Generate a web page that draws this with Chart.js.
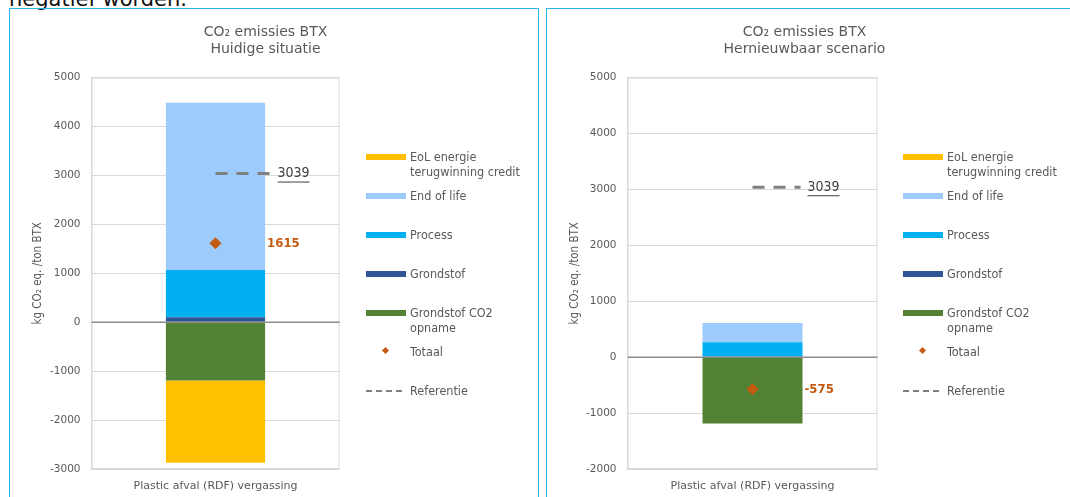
<!DOCTYPE html>
<html>
<head>
<meta charset="utf-8">
<script src="https://cdn.jsdelivr.net/npm/chart.js@4.4.1/dist/chart.umd.min.js"></script>
<style>
  html, body { margin: 0; padding: 0; background: #fff; }
  body { width: 1070px; height: 497px; position: relative; overflow: hidden;
         font-family: "DejaVu Sans Condensed", "DejaVu Sans", sans-serif; }
  .toptext { position: absolute; left: 9px; top: -12px; font-size: 21px; line-height: 22px;
             color: #111; font-family: "DejaVu Sans", sans-serif; white-space: nowrap; }
  .box { position: absolute; top: 8px; height: 520px; border: 1.5px solid #2bb5e6; box-sizing: border-box; }
  .box canvas { position: absolute; left: 0; top: 0; }
  .legend { position: absolute; font-size: 12.5px; color: #595959; }
  .legend .item { position: absolute; left: 0; white-space: nowrap; }
  .legend .sw { position: absolute; left: 0; top: 5px; width: 40px; height: 6px; }
  .legend .txt { position: absolute; left: 44px; top: 0; line-height: 15px; }
  .legend .dia { position: absolute; left: 17px; top: 4px; width: 5px; height: 5px; transform: rotate(45deg); }
  .legend .dash { position: absolute; left: 0; top: 7px; width: 37px; height: 1.5px;
                  background: repeating-linear-gradient(90deg, #808080 0 6px, transparent 6px 10px); }
</style>
</head>
<body>
<div class="toptext">negatief worden.</div>
<div class="box" id="boxL" style="left:9px; width:530px;"><canvas id="chartL"></canvas></div>
<div class="box" id="boxR" style="left:546px; width:530px;"><canvas id="chartR"></canvas></div>
<div class="legend" id="legendL" style="left:366px; top:0;"></div>
<div class="legend" id="legendR" style="left:903px; top:0;"></div>
<script>
// categories and series
const categories = ['Plastic afval (RDF) vergassing'];
const seriesNames = ['Grondstof', 'Process', 'End of life', 'Grondstof CO2 opname', 'EoL energie terugwinning credit'];
const seriesColors = ['#2f5597', '#00b0f0', '#9dcbfc', '#548235', '#ffc000'];

// Huidige situatie
const grondstofHuidig = [100];
const processHuidig = [965];
const endOfLifeHuidig = [3420];
const co2OpnameHuidig = [-1190];
const eolCreditHuidig = [-1680];
const totaalHuidig = [1615];
const referentieHuidig = [3039];
const yTicksHuidig = [-3000, -2000, -1000, 0, 1000, 2000, 3000, 4000, 5000];

// Hernieuwbaar scenario
const grondstofHernieuwbaar = [10];
const processHernieuwbaar = [255];
const endOfLifeHernieuwbaar = [345];
const co2OpnameHernieuwbaar = [-1185];
const eolCreditHernieuwbaar = [0];
const totaalHernieuwbaar = [-575];
const referentieHernieuwbaar = [3039];
const yTicksHernieuwbaar = [-2000, -1000, 0, 1000, 2000, 3000, 4000, 5000];

const FONT = '"DejaVu Sans Condensed", "DejaVu Sans", sans-serif';
const WIDE = '"DejaVu Sans", sans-serif';
const TXT = '#595959';
const TOTAL_COLOR = '#c55a11';

// draws outline, zero line, reference dashes and value labels
const overlays = {
    id: 'overlays',
    afterDatasetsDraw(chart, args, opts) {
        const { ctx, chartArea: a } = chart;
        const y = chart.scales.y;
        ctx.save();
        ctx.strokeStyle = '#d9d9d9';
        ctx.lineWidth = 1;
        ctx.strokeRect(a.left + 0.5, a.top + 0.5, a.right - a.left - 1, a.bottom - a.top - 1);

        const y0 = y.getPixelForValue(0);
        ctx.strokeStyle = '#8c8c8c';
        ctx.lineWidth = 1.5;
        ctx.beginPath();
        ctx.moveTo(a.left, y0);
        ctx.lineTo(a.right, y0);
        ctx.stroke();

        const bar = chart.getDatasetMeta(0).data[0];
        const cx = bar.x;
        const barRight = bar.x + bar.width / 2;

        // total label
        const pt = chart.getDatasetMeta(5).data[0];
        ctx.fillStyle = TOTAL_COLOR;
        ctx.font = 'bold 13px ' + FONT;
        ctx.textBaseline = 'middle';
        ctx.textAlign = 'left';
        ctx.fillText(String(opts.total[0]), barRight + 2, pt.y);

        // reference line
        const yr = y.getPixelForValue(opts.ref[0]);
        const x1 = cx + opts.refLen;
        ctx.strokeStyle = '#808080';
        ctx.lineWidth = 3;
        ctx.setLineDash([12, 9]);
        ctx.beginPath();
        ctx.moveTo(cx, yr);
        ctx.lineTo(x1, yr);
        ctx.stroke();
        ctx.setLineDash([]);
        ctx.fillStyle = '#404040';
        ctx.font = '14px ' + FONT;
        const label = String(opts.ref[0]);
        const tx = x1 + 7;
        ctx.fillText(label, tx, yr);
        const w = ctx.measureText(label).width;
        ctx.strokeStyle = '#404040';
        ctx.lineWidth = 1;
        ctx.beginPath();
        ctx.moveTo(tx, yr + 8.5);
        ctx.lineTo(tx + w, yr + 8.5);
        ctx.stroke();
        ctx.restore();
    }
};

function makeChart(id, subtitle, series, totaal, referentie, yTicks, size) {
    const canvas = document.getElementById(id);
    canvas.width = size.w;
    canvas.height = 488;
    canvas.style.width = size.w + 'px';
    canvas.style.height = '488px';

    const datasets = series.map((data, i) => ({
        label: seriesNames[i],
        data,
        backgroundColor: seriesColors[i],
        borderWidth: 0,
        barPercentage: 0.4,
        categoryPercentage: 1,
        order: 1
    }));
    datasets.push({
        type: 'line',
        label: 'Totaal',
        data: totaal,
        showLine: false,
        stack: 'totaal',
        pointStyle: 'rectRot',
        pointRadius: 6,
        pointBackgroundColor: TOTAL_COLOR,
        pointBorderColor: TOTAL_COLOR,
        pointBorderWidth: 0,
        order: -1
    });

    return new Chart(canvas, {
        type: 'bar',
        data: { labels: categories, datasets },
        plugins: [overlays],
        options: {
            responsive: false,
            animation: false,
            layout: { padding: 0 },
            scales: {
                x: {
                    stacked: true,
                    grid: { display: false },
                    border: { display: true, color: '#d9d9d9' },
                    ticks: { color: TXT, font: { family: WIDE, size: 11 }, padding: 3 },
                    afterFit(scale) { scale.height = 28; }
                },
                y: {
                    stacked: true,
                    min: yTicks[0],
                    max: yTicks[yTicks.length - 1],
                    afterBuildTicks(scale) { scale.ticks = yTicks.map(v => ({ value: v })); },
                    afterFit(scale) { scale.width = size.left; },
                    grid: { color: '#d9d9d9', drawTicks: false },
                    border: { display: true, color: '#d9d9d9' },
                    ticks: { color: TXT, font: { family: WIDE, size: 10.5 }, padding: 11,
                             callback: v => String(v) },
                    title: {
                        display: true,
                        text: 'kg CO₂ eq. /ton BTX',
                        color: TXT,
                        font: { family: FONT, size: 11.5 },
                        padding: { top: 21, bottom: 0 }
                    }
                },
                // empty axis that keeps room for the legend
                side: {
                    position: 'right',
                    display: true,
                    min: 0, max: 1,
                    grid: { display: false },
                    border: { display: false },
                    ticks: { display: false },
                    afterFit(scale) { scale.width = size.right; }
                }
            },
            plugins: {
                legend: { display: false },
                tooltip: { enabled: false },
                title: {
                    display: true,
                    text: ['CO₂ emissies BTX', subtitle],
                    color: TXT,
                    font: { family: WIDE, size: 14, weight: 'normal', lineHeight: 1.2 },
                    padding: { top: 15, bottom: 20 }
                },
                overlays: { total: totaal, ref: referentie, refLen: size.refLen }
            }
        }
    });
}

function makeLegend(id) {
    const el = document.getElementById(id);
    // legend order as in the picture
    const items = [
        { text: 'EoL energie<br>terugwinning credit', color: seriesColors[4] },
        { text: 'End of life', color: seriesColors[2] },
        { text: 'Process', color: seriesColors[1] },
        { text: 'Grondstof', color: seriesColors[0] },
        { text: 'Grondstof CO2<br>opname', color: seriesColors[3] },
        { text: 'Totaal', diamond: true },
        { text: 'Referentie', dash: true }
    ];
    items.forEach((it, i) => {
        const d = document.createElement('div');
        d.className = 'item';
        d.style.top = (149 + i * 39) + 'px';
        let mark;
        if (it.diamond) mark = '<div class="dia" style="background:' + TOTAL_COLOR + '"></div>';
        else if (it.dash) mark = '<div class="dash"></div>';
        else mark = '<div class="sw" style="background:' + it.color + '"></div>';
        d.innerHTML = mark + '<div class="txt">' + it.text + '</div>';
        el.appendChild(d);
    });
}

makeChart('chartL', 'Huidige situatie',
    [grondstofHuidig, processHuidig, endOfLifeHuidig, co2OpnameHuidig, eolCreditHuidig],
    totaalHuidig, referentieHuidig, yTicksHuidig,
    { w: 511, left: 81.5, right: 181.5, refLen: 55 });
makeChart('chartR', 'Hernieuwbaar scenario',
    [grondstofHernieuwbaar, processHernieuwbaar, endOfLifeHernieuwbaar, co2OpnameHernieuwbaar, eolCreditHernieuwbaar],
    totaalHernieuwbaar, referentieHernieuwbaar, yTicksHernieuwbaar,
    { w: 515, left: 80.5, right: 184.5, refLen: 48 });
makeLegend('legendL');
makeLegend('legendR');
</script>
</body>
</html>
